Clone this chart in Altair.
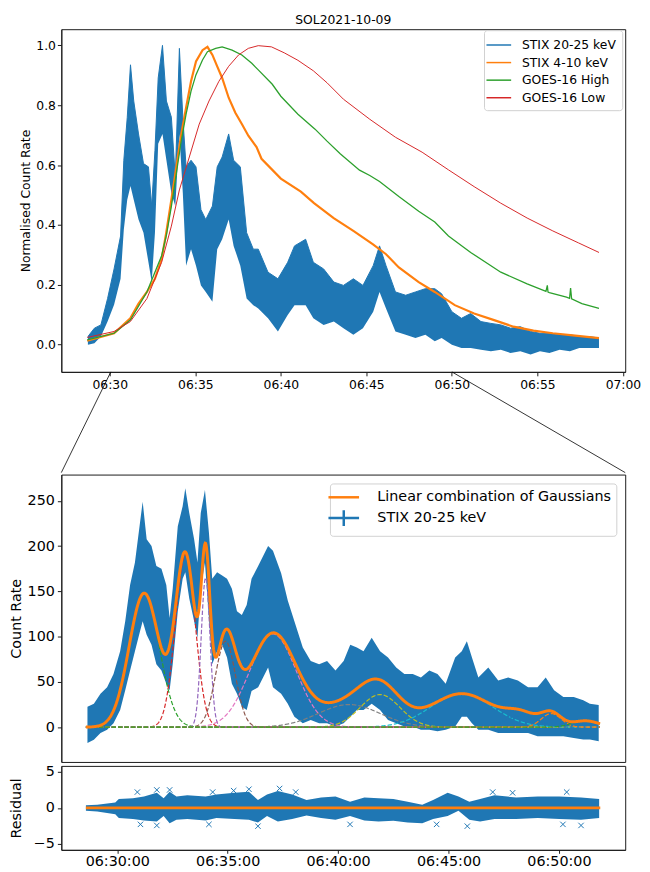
import altair as alt
import numpy as np
import pandas as pd

T0 = pd.Timestamp("2021-10-09 06:30:00")


def to_time(mins):
    return [T0 + pd.Timedelta(minutes=float(m)) for m in mins]


def dt(h, m, s=0):
    return alt.DateTime(year=2021, month=10, date=9, hours=h, minutes=m, seconds=s)


FONT = "DejaVu Sans"
BLUE, ORANGE, GREEN, RED = "#1f77b4", "#ff7f0e", "#2ca02c", "#d62728"

# ---------------- top panel (minutes after 06:30, normalised) ----------------
hi_t = [-1.28, -0.9, -0.52, -0.13, 0.25, 0.63, 0.82, 1.02, 1.21, 1.4, 1.68, 1.97, 2.26, 2.45,
        2.64, 2.83, 3.08, 3.31, 3.6, 3.83, 4.07, 4.27, 4.46, 4.75, 5.04, 5.33, 5.61, 6.0,
        6.28, 6.57, 6.95, 7.24, 7.63, 8.0, 8.39, 8.68, 9.25, 9.83, 10.4, 10.8, 11.45, 11.9,
        12.5, 13.1, 13.66, 14.24, 14.8, 15.4, 15.77, 16.15, 16.7, 17.3, 17.87, 18.45, 19.0,
        19.4, 20.0, 20.56, 21.1, 21.7, 22.28, 22.86, 23.43, 24.0, 24.6, 25.15, 25.7, 26.3,
        26.9, 27.45, 28.0, 28.6]
hi_up = [0.027, 0.055, 0.066, 0.154, 0.253, 0.363, 0.616, 0.759, 0.935, 0.814, 0.704, 0.605,
         0.594, 0.463, 0.649, 0.891, 1.0, 0.814, 0.76, 0.56, 0.99, 0.76, 0.594, 0.616, 0.594,
         0.451, 0.418, 0.463, 0.594, 0.627, 0.704, 0.616, 0.594, 0.374, 0.319, 0.319, 0.242,
         0.22, 0.275, 0.33, 0.352, 0.275, 0.253, 0.209, 0.198, 0.22, 0.198, 0.264, 0.33, 0.264,
         0.176, 0.165, 0.176, 0.187, 0.187, 0.17, 0.11, 0.088, 0.104, 0.077, 0.071, 0.066,
         0.055, 0.06, 0.044, 0.038, 0.038, 0.033, 0.033, 0.027, 0.027, 0.022]
hi_lo = [0.0, 0.005, 0.027, 0.077, 0.133, 0.22, 0.385, 0.484, 0.53, 0.484, 0.418, 0.374, 0.275,
         0.209, 0.374, 0.671, 0.704, 0.616, 0.506, 0.463, 0.704, 0.506, 0.264, 0.319, 0.264,
         0.198, 0.176, 0.143, 0.319, 0.352, 0.418, 0.33, 0.264, 0.154, 0.132, 0.121, 0.088,
         0.044, 0.099, 0.132, 0.132, 0.088, 0.066, 0.077, 0.055, 0.033, 0.055, 0.11, 0.176,
         0.121, 0.044, 0.033, 0.022, 0.033, 0.011, 0.022, 0.0, -0.011, -0.011, -0.017, -0.022,
         -0.017, -0.028, -0.022, -0.033, -0.022, -0.028, -0.017, -0.022, -0.011, -0.011, -0.011]

lo_t = [-1.32, 0.25, 1.2, 1.68, 2.17, 2.64, 3.03, 3.3, 3.6, 3.89, 4.18, 4.46, 4.75, 5.04, 5.42,
        5.71, 6.0, 6.28, 6.57, 6.95, 7.34, 7.72, 8.1, 8.58, 8.87, 10.0, 11.17, 11.94, 13.09,
        14.24, 15.39, 16.15, 16.9, 18.06, 19.0, 20.17, 21.3, 22.47, 23.6, 24.77, 25.9, 27.07,
        28.6]
lo_v = [0.013, 0.038, 0.088, 0.137, 0.176, 0.22, 0.286, 0.374, 0.484, 0.594, 0.704, 0.792, 0.88,
        0.946, 0.984, 0.995, 0.968, 0.93, 0.891, 0.825, 0.775, 0.737, 0.698, 0.66, 0.621, 0.555,
        0.511, 0.473, 0.423, 0.38, 0.335, 0.302, 0.258, 0.209, 0.176, 0.132, 0.104, 0.082, 0.06,
        0.047, 0.038, 0.031, 0.022]

gh_t = [-1.32, 0.25, 1.2, 2.17, 3.03, 3.3, 3.6, 3.89, 4.18, 4.46, 4.75, 5.04, 5.42, 5.71, 6.19,
        6.57, 7.15, 7.72, 8.3, 8.68, 9.5, 10.0, 11.0, 12.0, 12.7, 13.47, 14.6, 15.2, 15.77, 16.9,
        18.06, 19.0, 19.8, 21.1, 22.86, 24.4, 25.5, 25.58, 25.62, 25.7, 26.7, 26.88, 26.94,
        27.0, 27.6, 28.6]
gh_v = [0.016, 0.038, 0.082, 0.176, 0.297, 0.363, 0.462, 0.572, 0.682, 0.77, 0.847, 0.902, 0.951,
        0.979, 0.99, 0.995, 0.984, 0.968, 0.94, 0.918, 0.87, 0.83, 0.77, 0.72, 0.68, 0.638,
        0.583, 0.565, 0.545, 0.495, 0.446, 0.41, 0.363, 0.308, 0.242, 0.203, 0.178, 0.198,
        0.176, 0.174, 0.159, 0.155, 0.189, 0.153, 0.137, 0.121]

gl_t = [-1.32, 0.25, 1.2, 2.17, 3.03, 3.6, 4.07, 4.65, 5.23, 5.8, 6.38, 6.95, 7.53, 8.1, 8.68,
        9.45, 10.2, 11.0, 11.9, 12.7, 13.66, 15.2, 16.7, 18.26, 19.8, 21.3, 22.85, 24.4, 25.9,
        27.4, 28.6]
gl_v = [0.024, 0.044, 0.077, 0.154, 0.275, 0.396, 0.517, 0.627, 0.737, 0.814, 0.88, 0.93, 0.968,
        0.99, 0.999, 0.995, 0.975, 0.95, 0.915, 0.875, 0.82, 0.753, 0.693, 0.643, 0.584, 0.528,
        0.473, 0.423, 0.38, 0.34, 0.308]

SERIES = ["STIX 20-25 keV", "STIX 4-10 keV", "GOES-16 High", "GOES-16 Low"]

# ---------------- bottom panel: counts with error bars ----------------
cb_t = [-1.35, -1.06, -0.76, -0.46, -0.17, 0.13, 0.36, 0.58, 0.8, 1.03, 1.15, 1.33, 1.55, 1.77,
        2.0, 2.22, 2.37, 2.51, 2.74, 2.96, 3.08, 3.26, 3.48, 3.63, 3.78, 3.97, 4.15, 4.3, 4.52,
        4.75, 4.97, 5.19, 5.42, 5.64, 5.86, 6.08, 6.38, 6.83, 7.05, 7.42, 7.72, 8.02, 8.4, 8.76,
        9.14, 9.5, 9.88, 10.25, 10.55, 10.85, 11.15, 11.52, 11.9, 12.26, 12.63, 13.0, 13.38,
        13.75, 14.13, 14.5, 14.87, 15.3, 15.6, 15.83, 16.06, 16.35, 16.8, 17.25, 17.7, 18.14,
        18.6, 19.03, 19.4, 19.78, 20.2, 20.67, 21.1, 21.4, 21.8]
cb_up = [22.5, 26, 37, 44, 58.8, 84, 117, 157, 182, 226, 249, 207.5, 200, 178, 175, 157, 120.5,
         153, 222, 244, 264, 236.5, 207.5, 182, 236.5, 262, 215, 164, 171, 167.5, 164, 153, 128,
         124, 135, 164, 178, 200, 195, 170, 140, 117, 88, 73, 69.6, 73, 62.5, 73, 91, 88, 84,
         98.7, 84, 77, 66, 58.8, 58.8, 55, 62.5, 58.8, 48, 77, 84, 95, 77, 55, 66, 51.6, 55,
         51.6, 44, 44, 55, 40.7, 33.4, 33.4, 29.8, 26, 24.4]
cb_lo = [-17.4, -13.8, -6.5, -2.9, 4.4, 19, 40.7, 62.5, 84, 106, 117, 102, 91, 69.6, 62.5, 48,
         40.7, 69.6, 128, 164, 171, 142, 117, 98.7, 153, 182, 120.5, 69.6, 84, 91, 77, 48, 37,
         22.5, 19, 40, 44, 66, 44, 37, 26, 11.6, 4.4, 8, 4.4, 4.4, 0.8, 4.4, 11.6, 19, 19, 26,
         19, 8, 4.4, 0.8, 0.8, -2.9, -2.9, -4.5, -2.9, 0.8, 11.6, 11.6, 4.4, -2.9, -2.9, -6.5,
         -6.5, -6.5, -6.5, -10, -10, -10, -10, -12, -13.7, -13.7, -15.6]

# Gaussian components: centre (min after 06:30), amplitude, width (min)
g_color = ["#2ca02c", "#d62728", "#9467bd", "#8c564b", "#e377c2", "#7f7f7f", "#bcbd22",
           "#17becf", "#1f77b4", "#ff7f0e", "#2ca02c"]
g_mu = [1.22, 3.08, 4.0, 4.9, 7.05, 10.5, 11.9, 15.6, 18.3, 19.65, 21.2]
g_amp = [148, 190, 165, 95, 103, 25, 36, 37, 13, 15, 7]
g_sig = [0.68, 0.45, 0.2, 0.45, 1.05, 1.4, 0.9, 1.4, 0.7, 0.45, 0.6]
fit_start, fit_end = -1.42, 21.87

# ---------------- residual panel ----------------
rs_t = [-1.42, -0.91, -0.09, 0.07, 0.71, 1.21, 1.79, 2.1, 2.37, 2.68, 3.17, 4.0, 4.49, 5.31,
        5.96, 6.37, 6.78, 7.27, 7.92, 8.57, 9.23, 9.88, 10.54, 11.19, 11.83, 12.5, 13.15, 13.81,
        14.3, 14.96, 15.45, 15.94, 16.43, 17.08, 18.06, 19.04, 20.02, 21.0, 21.82]
rs_up = [0.35, 0.45, 0.75, 1.25, 1.35, 1.6, 2.1, 1.35, 2.25, 1.6, 1.75, 1.6, 1.85, 2.1, 2.25,
         1.1, 1.85, 2.35, 1.85, 1.1, 1.45, 1.6, 0.85, 1.45, 1.35, 1.25, 0.85, 0.45, 1.1, 2.1,
         1.6, 0.85, 1.25, 1.75, 1.45, 1.6, 1.6, 1.45, 1.25]
rs_lo = [-0.4, -0.5, -0.9, -1.4, -1.55, -1.75, -1.9, -1.15, -2.15, -1.65, -1.55, -1.75, -1.4,
         -1.55, -1.65, -2.05, -1.15, -1.9, -1.55, -1.05, -1.4, -1.65, -1.15, -1.75, -1.9, -1.8,
         -2.05, -2.15, -1.55, -1.15, -0.4, -1.65, -1.9, -1.55, -1.55, -1.4, -1.55, -1.65, -1.4]
rx_t = [0.91, 1.79, 2.37, 4.32, 5.27, 5.96, 7.35, 8.08, 17.0, 17.9, 20.35,
        1.05, 1.79, 4.15, 6.37, 10.54, 14.46, 15.85, 20.18, 21.0]
rx_v = [2.2, 2.5, 2.5, 2.2, 2.4, 2.6, 2.7, 2.2, 2.2, 2.1, 2.2,
        -2.3, -2.45, -2.3, -2.55, -2.3, -2.3, -2.55, -2.3, -2.45]

TOP_TICKS = [(6, 30), (6, 35), (6, 40), (6, 45), (6, 50), (6, 55), (7, 0)]
BOT_TICKS = [(6, 30), (6, 35), (6, 40), (6, 45), (6, 50)]

# ---------------- frames ----------------
top_df = pd.DataFrame({"time": to_time(hi_t), "up": hi_up, "lo": hi_lo})
line_frames = [
    pd.DataFrame({"time": to_time(hi_t), "v": hi_up, "series": SERIES[0]}),
    pd.DataFrame({"time": to_time(lo_t), "v": lo_v, "series": SERIES[1]}),
    pd.DataFrame({"time": to_time(gh_t), "v": gh_v, "series": SERIES[2]}),
    pd.DataFrame({"time": to_time(gl_t), "v": gl_v, "series": SERIES[3]}),
]
line_w = [1.0, 2.2, 1.3, 1.0]

grid = np.round(np.arange(fit_start, fit_end + 1e-9, 0.02), 3)
grid_time = to_time(grid)
comp_frames = []
fit_vals = np.zeros_like(grid)
for mu, a, s in zip(g_mu, g_amp, g_sig):
    vals = a * np.exp(-((grid - mu) ** 2) / (2 * s * s))
    fit_vals = fit_vals + vals
    comp_frames.append(pd.DataFrame({"time": grid_time, "v": vals}))
fit_df = pd.DataFrame({"time": grid_time, "v": fit_vals})
band_df = pd.DataFrame({"time": to_time(cb_t), "up": cb_up, "lo": cb_lo})
res_df = pd.DataFrame({"time": to_time(rs_t), "up": rs_up, "lo": rs_lo})
rx_df = pd.DataFrame({"time": to_time(rx_t), "v": rx_v})
zero_df = pd.DataFrame({"time": to_time([fit_start, fit_end]), "v": [0.0, 0.0]})

# ---------------- layout constants ----------------
W = 571
TOP_H = 347
MAIN_H = 291
RES_H = 85
GAP = 102  # from bottom of top plot to top of zoomed plot

top_x = alt.X("time:T", title=None,
              scale=alt.Scale(domain=[dt(6, 27, 10), dt(7, 0, 8)]),
              axis=alt.Axis(format="%H:%M", values=[dt(h, m) for h, m in TOP_TICKS],
                            labelFontSize=12.5, tickSize=4, labelPadding=3))
top_y_scale = alt.Scale(domain=[-0.091, 1.054], nice=False)
top_y_axis = alt.Axis(values=[0, 0.2, 0.4, 0.6, 0.8, 1.0], format=".1f", labelFontSize=12.5,
                      titleFontSize=12.5, tickSize=4, labelPadding=2, minExtent=26,
                      maxExtent=26, titlePadding=3.5, title="Normalised Count Rate")

color_scale = alt.Scale(domain=SERIES, range=[BLUE, ORANGE, GREEN, RED])
top_legend = alt.Legend(title=None, orient="none", legendX=428, legendY=1,
                        symbolType="M-1.6,0L1.6,0", symbolSize=244, symbolStrokeWidth=1.5,
                        labelFontSize=12.5, labelFont=FONT, labelOffset=14.5, rowPadding=1.8,
                        padding=6, strokeColor="#d0d0d0", fillColor="white", cornerRadius=3,
                        labelLimit=0)

top_band = alt.Chart(top_df).mark_area(color=BLUE, opacity=1).encode(
    x=top_x, y=alt.Y("up:Q", scale=top_y_scale, axis=top_y_axis), y2="lo:Q")

top_layers = [top_band]
for fr, w in zip(line_frames, line_w):
    top_layers.append(
        alt.Chart(fr).mark_line(strokeWidth=w).encode(
            x=top_x,
            y=alt.Y("v:Q", scale=top_y_scale, axis=top_y_axis),
            color=alt.Color("series:N", scale=color_scale, legend=top_legend),
        )
    )

# connector lines from the top panel to the zoomed panel
conn_l_df = pd.DataFrame({"time": to_time([0.06])})
conn_r_df = pd.DataFrame({"time": to_time([20.0])})
conn_l = alt.Chart(conn_l_df).mark_rule(color="black", strokeWidth=0.8).encode(
    x=top_x, y=alt.value(TOP_H), x2=alt.value(0), y2=alt.value(TOP_H + GAP))
conn_r = alt.Chart(conn_r_df).mark_rule(color="black", strokeWidth=0.8).encode(
    x=top_x, y=alt.value(TOP_H), x2=alt.value(W), y2=alt.value(TOP_H + GAP))
top_layers += [conn_l, conn_r]

top = alt.layer(*top_layers).properties(
    width=W, height=TOP_H,
    title=alt.TitleParams("SOL2021-10-09", fontSize=12.5, fontWeight="normal", font=FONT,
                          offset=3, anchor="middle", color="black"))

# ---------------- zoomed panel ----------------
bx_scale = alt.Scale(domain=[dt(6, 27, 28), dt(6, 53, 0)])
main_x = alt.X("time:T", scale=bx_scale, axis=None)
main_y_scale = alt.Scale(domain=[-38.4, 279], nice=False)
main_y_axis = alt.Axis(values=[0, 50, 100, 150, 200, 250], labelFontSize=14.5,
                       titleFontSize=14.5, tickSize=4, labelPadding=3, minExtent=34,
                       maxExtent=34, titlePadding=4.5, title="Count Rate")

main_layers = [alt.Chart(band_df).mark_area(color=BLUE, opacity=1).encode(
    x=main_x, y=alt.Y("up:Q", scale=main_y_scale, axis=main_y_axis), y2="lo:Q")]
for fr, c in zip(comp_frames, g_color):
    main_layers.append(alt.Chart(fr).mark_line(color=c, strokeWidth=1.2, strokeDash=[4.5, 2]).encode(
        x=main_x, y=alt.Y("v:Q", scale=main_y_scale, axis=main_y_axis)))
main_layers.append(alt.Chart(fit_df).mark_line(color=ORANGE, strokeWidth=3).encode(
    x=main_x, y=alt.Y("v:Q", scale=main_y_scale, axis=main_y_axis)))

LEG2 = ["Linear combination of Gaussians", "STIX 20-25 keV"]
leg_df = pd.DataFrame({"time": to_time([5.0, 5.0]), "v": [100.0, 100.0], "series": LEG2})
leg2 = alt.Legend(title=None, orient="none", legendX=272, legendY=9, symbolOpacity=1,
                  symbolSize=240, symbolStrokeWidth=2.5, labelFontSize=14.5, labelFont=FONT,
                  labelOffset=25, rowPadding=1, padding=5, strokeColor="#d0d0d0",
                  fillColor="white", cornerRadius=3, labelLimit=0)
main_layers.append(alt.Chart(leg_df).mark_point(opacity=0, filled=False).encode(
    x=main_x, y=alt.Y("v:Q", scale=main_y_scale, axis=main_y_axis),
    color=alt.Color("series:N", scale=alt.Scale(domain=LEG2, range=[ORANGE, BLUE]), legend=leg2),
    shape=alt.Shape("series:N", scale=alt.Scale(domain=LEG2, range=["M-2,0L2,0", "M-2,0L2,0M0,-1.03L0,1.03"]),
                    legend=leg2)))

main = alt.layer(*main_layers).properties(width=W, height=MAIN_H)

# ---------------- residual panel ----------------
res_x = alt.X("time:T", title=None, scale=bx_scale,
              axis=alt.Axis(format="%H:%M:%S", values=[dt(h, m) for h, m in BOT_TICKS],
                            labelFontSize=14.5, tickSize=3.5, labelPadding=1.5))
res_y_scale = alt.Scale(domain=[-5.85, 5.85], nice=False)
res_y_axis = alt.Axis(values=[-5, 0, 5], labelFontSize=14.5, titleFontSize=14.5, tickSize=4,
                      labelPadding=3, minExtent=34, maxExtent=34, titlePadding=4.5,
                      title="Residual", labelExpr="replace(datum.label, '-', '\u2212')")
res = alt.layer(
    alt.Chart(res_df).mark_area(color=BLUE, opacity=1).encode(
        x=res_x, y=alt.Y("up:Q", scale=res_y_scale, axis=res_y_axis), y2="lo:Q"),
    alt.Chart(rx_df).mark_point(shape="M-1,-1L1,1M-1,1L1,-1", filled=False, size=30,
                                strokeWidth=1, color=BLUE, opacity=1).encode(
        x=res_x, y=alt.Y("v:Q", scale=res_y_scale, axis=res_y_axis)),
    alt.Chart(zero_df).mark_line(color=ORANGE, strokeWidth=3).encode(
        x=res_x, y=alt.Y("v:Q", scale=res_y_scale, axis=res_y_axis)),
).properties(width=W, height=RES_H)

bottom = alt.vconcat(main, res, spacing=0)
chart = alt.vconcat(top, bottom, spacing=0).resolve_scale(
    color="independent", shape="independent").resolve_legend(
    color="independent", shape="independent").properties(padding=0).configure(
    font=FONT).configure_view(stroke="#1a1a1a", strokeWidth=1).configure_axis(
    domainColor="#1a1a1a", tickColor="#1a1a1a", labelColor="black", titleColor="black",
    titleFontWeight="normal", grid=False, labelFont=FONT, titleFont=FONT, domainWidth=1,
    tickWidth=1).configure_legend(labelColor="black")

chart.save("out.html", embed_options={"renderer": "svg", "actions": False})
